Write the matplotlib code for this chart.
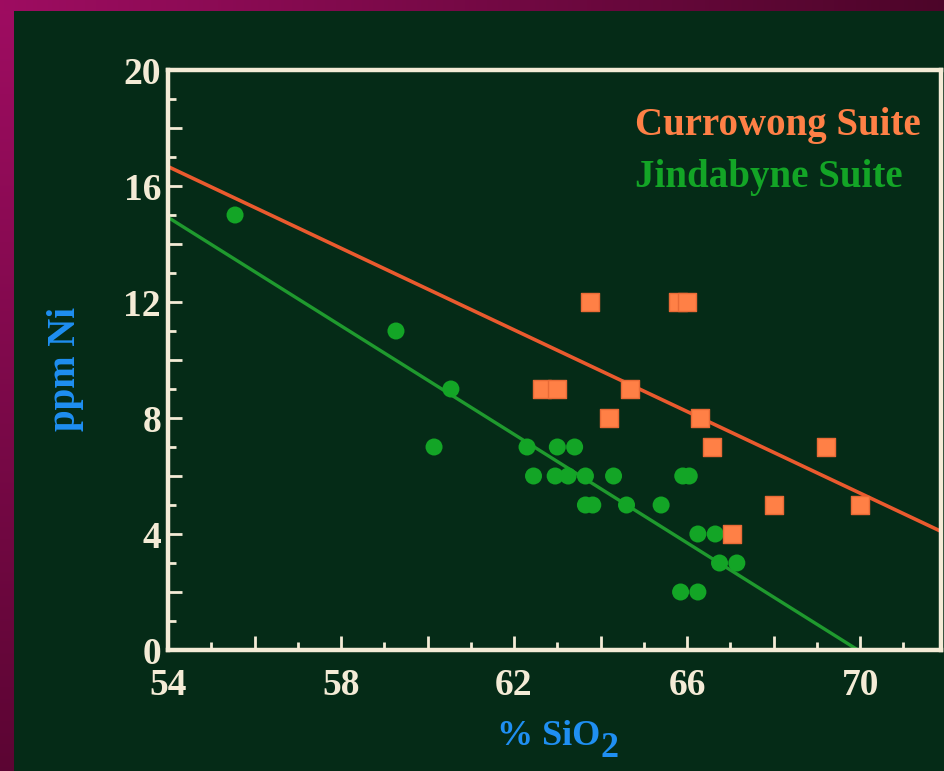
import numpy as np
import matplotlib
matplotlib.use("Agg")
import matplotlib.pyplot as plt
from matplotlib.ticker import MultipleLocator, FuncFormatter

# Currowong Suite (squares)
cur_sio2 = [63.75, 65.8, 66.0, 62.65, 63.0, 64.68, 64.2, 66.3, 66.58, 67.04, 68.0, 69.2, 70.0]
cur_ni = [12, 12, 12, 9, 9, 9, 8, 8, 7, 4, 5, 7, 5]

# Jindabyne Suite (circles)
jin_sio2 = [55.55, 59.27, 60.54, 60.15, 62.3, 63.0, 63.4, 62.45, 62.95, 63.25, 63.65,
            64.3, 65.9, 66.05, 63.65, 63.82, 64.6, 65.4, 66.25, 66.65, 66.75, 67.15,
            65.85, 66.25]
jin_ni = [15, 11, 9, 7, 7, 7, 7, 6, 6, 6, 6, 6, 6, 6, 5, 5, 5, 5, 4, 4, 3, 3, 2, 2]

# Trend lines (end points in data units)
cur_fit_x = [54.0, 72.0]
cur_fit_y = [16.67, 4.0]
jin_fit_x = [54.0, 69.95]
jin_fit_y = [14.92, 0.0]

x_labels = [54, 58, 62, 66, 70]
y_labels = [0, 4, 8, 12, 16, 20]

BG = "#052b17"
CREAM = "#f4ebd6"
ORANGE_PT = "#ff8046"
ORANGE_LN = "#ea5a2e"
GREEN_PT = "#13a526"
GREEN_LN = "#1f9a2e"
BLUE = "#1f8ff2"
SERIF = "Liberation Serif"

fig = plt.figure(figsize=(9.45, 7.71), dpi=100)
fig.patch.set_facecolor(BG)

# magenta frame strips along top and left edges
top = fig.add_axes([0, 1 - 11 / 771, 1, 11 / 771])
grad_h = np.linspace(0, 1, 256)[None, :]
c0 = np.array([0.62, 0.05, 0.38])
c1 = np.array([0.30, 0.02, 0.16])
top.imshow(c0[None, None, :] * (1 - grad_h[..., None]) + c1[None, None, :] * grad_h[..., None],
           aspect="auto", extent=[0, 1, 0, 1])
top.set_axis_off()
left = fig.add_axes([0, 0, 14 / 945, 1 - 11 / 771])
grad_v = np.linspace(0, 1, 256)[:, None]
c2 = np.array([0.36, 0.02, 0.20])
left.imshow(c0[None, None, :] * (1 - grad_v[..., None]) + c2[None, None, :] * grad_v[..., None],
            aspect="auto", extent=[0, 1, 0, 1])
left.set_axis_off()

ax = fig.add_axes([168 / 945, 1 - 650 / 771, (941 - 168) / 945, (650 - 70) / 771])
ax.set_facecolor(BG)
ax.set_xlim(54, 71.87)
ax.set_ylim(0, 20)

ax.plot(cur_fit_x, cur_fit_y, color=ORANGE_LN, lw=2.6, zorder=2, clip_on=True)
ax.plot(jin_fit_x, jin_fit_y, color=GREEN_LN, lw=2.4, zorder=2, clip_on=True)
ax.scatter(jin_sio2, jin_ni, s=150, marker="o", color=GREEN_PT, edgecolors="none", zorder=3)
ax.scatter(cur_sio2, cur_ni, s=170, marker="s", color=ORANGE_PT, edgecolors="#e86a36",
           linewidths=1, zorder=4)

for sp in ax.spines.values():
    sp.set_color(CREAM)
    sp.set_linewidth(3.2)

ax.xaxis.set_major_locator(MultipleLocator(2))
ax.xaxis.set_minor_locator(MultipleLocator(1))
ax.yaxis.set_major_locator(MultipleLocator(2))
ax.yaxis.set_minor_locator(MultipleLocator(1))
ax.xaxis.set_major_formatter(FuncFormatter(
    lambda v, p: f"{v:.0f}" if round(v) in x_labels else ""))
ax.yaxis.set_major_formatter(FuncFormatter(
    lambda v, p: f"{v:.0f}" if round(v) in y_labels else ""))
ax.tick_params(which="both", direction="in", colors=CREAM, width=2,
               top=False, right=False)
ax.tick_params(which="major", length=10)
ax.tick_params(which="minor", length=6)
ax.tick_params(axis="x", which="major", pad=13)
ax.tick_params(axis="y", which="major", pad=5)
for lab in ax.get_xticklabels() + ax.get_yticklabels():
    lab.set_fontfamily(SERIF)
    lab.set_fontweight("bold")
    lab.set_fontsize(27)
    lab.set_color(CREAM)

ax.text(0.604, 0.888, "Currowong Suite", transform=ax.transAxes, color=ORANGE_PT,
        fontsize=28, family=SERIF, fontweight="bold", ha="left", va="baseline")
ax.text(0.604, 0.798, "Jindabyne Suite", transform=ax.transAxes, color=GREEN_PT,
        fontsize=28, family=SERIF, fontweight="bold", ha="left", va="baseline")

fig.text(66 / 945, 1 - 369 / 771, "ppm Ni", rotation=90, color=BLUE, fontsize=28,
         family=SERIF, fontweight="bold", ha="center", va="center")
fig.text(600 / 945, 1 - 745 / 771, "% SiO", color=BLUE, fontsize=26,
         family=SERIF, fontweight="bold", ha="right", va="baseline")
fig.text(601 / 945, 1 - 757 / 771, "2", color=BLUE, fontsize=26,
         family=SERIF, fontweight="bold", ha="left", va="baseline")

fig.savefig("out.png", dpi=100, facecolor=BG)
